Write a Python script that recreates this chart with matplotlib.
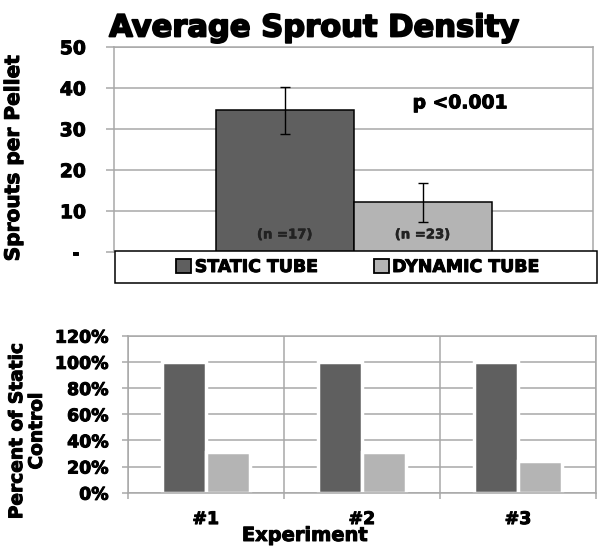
import matplotlib.pyplot as plt
import matplotlib.patheffects as pe
from matplotlib.patches import Rectangle, Patch

# Top chart: average sprout density
groups = ['STATIC TUBE', 'DYNAMIC TUBE']
density = [34.5, 12.0]
density_err = [5.7, 4.75]
n_labels = ['(n =17)', '(n =23)']
density_ticks = [0, 10, 20, 30, 40, 50]
density_ticklabels = ['- ', '10', '20', '30', '40', '50']

# Bottom chart: percent of static control per experiment
experiments = ['#1', '#2', '#3']
static_pct = [100, 100, 100]
dynamic_pct = [31, 31, 24]
pct_ticks = [0, 20, 40, 60, 80, 100, 120]

DARK = '#5f5f5f'
LIGHT = '#b4b4b4'
GRID = '#a8a8a8'
W, H = 602, 550

plt.rcParams['font.family'] = 'DejaVu Sans'
plt.rcParams['font.weight'] = 'bold'

# heavier strokes so the bold text looks closer to the original black face
HEAVY = [pe.withStroke(linewidth=0.7, foreground='black')]
HEAVIER = [pe.withStroke(linewidth=1.3, foreground='black')]


def box(x0, y0, x1, y1):
    # pixel box (top-left origin) -> figure rect
    return [x0 / W, 1 - y1 / H, (x1 - x0) / W, (y1 - y0) / H]


fig = plt.figure(figsize=(W / 100, H / 100), dpi=100)

# ---- top chart ----
ax1 = fig.add_axes(box(114.3, 46.7, 593, 251.7))
xs = [-0.144, 0.144]
ax1.bar(xs, density, width=0.288, color=[DARK, LIGHT], edgecolor='black',
        linewidth=1.1, zorder=3)
ax1.errorbar(xs, density, yerr=density_err, fmt='none', ecolor='black',
             elinewidth=1.0, capsize=3.5, capthick=1.0, zorder=4)
for x, lab in zip(xs, n_labels):
    ax1.text(x, 4.1, lab, ha='center', va='center', fontsize=9.5,
             fontweight='bold', color='#222222', zorder=5,
             path_effects=[pe.withStroke(linewidth=0.4, foreground='#222222')])
ax1.text(0.222, 36.3, 'p <0.001', ha='center', va='center', fontsize=13.5,
         fontweight='bold', path_effects=HEAVY)
ax1.set_xlim(-0.5, 0.5)
ax1.set_ylim(0, 50)
ax1.set_xticks([])
ax1.set_yticks(density_ticks)
ax1.set_yticklabels(density_ticklabels, fontsize=13.5, fontweight='bold')
for t in ax1.get_yticklabels():
    t.set_path_effects(HEAVY)
ax1.tick_params(axis='y', length=5.5, width=1.1, color=GRID, pad=15)
ax1.yaxis.grid(True, color=GRID, linewidth=1.1, zorder=0)
ax1.set_axisbelow(True)
for s in ['left', 'right', 'top']:
    ax1.spines[s].set_color(GRID)
    ax1.spines[s].set_linewidth(1.1)
ax1.spines['bottom'].set_visible(False)

# legend box under the top chart
fig.patches.append(Rectangle((115 / W, 1 - 283 / H), 482 / W, 32 / H,
                             transform=fig.transFigure, facecolor='white',
                             edgecolor='black', linewidth=1.1, zorder=10))
handles = [Patch(facecolor=c, edgecolor='black', linewidth=1.3)
           for c in [DARK, LIGHT]]
leg = fig.legend(handles, groups, loc='center', ncol=2, frameon=False,
                 bbox_to_anchor=(358 / W, 1 - 267 / H),
                 prop={'size': 12.5, 'weight': 'bold'},
                 handlelength=0.86, handleheight=0.86, handletextpad=0.2,
                 columnspacing=3.2, borderpad=0)
leg.set_zorder(11)
for t in leg.get_texts():
    t.set_path_effects(HEAVY)

fig.text(13.5 / W, 1 - 157.7 / H, 'Sprouts per Pellet', rotation=90,
         ha='center', va='center', fontsize=14.5, fontweight='bold',
         path_effects=HEAVY)
fig.text(313.5 / W, 1 - 36.5 / H, 'Average Sprout Density', ha='center',
         va='baseline', fontsize=22, fontweight='bold', path_effects=HEAVIER)

# ---- bottom chart ----
ax2 = fig.add_axes(box(127.7, 335.7, 596, 492.7))
pos = list(range(len(experiments)))
ax2.bar([p + 0.358 for p in pos], static_pct, width=0.282, color=DARK,
        edgecolor='white', linewidth=2.5, zorder=3)
ax2.bar([p + 0.641 for p in pos], dynamic_pct, width=0.282, color=LIGHT,
        edgecolor='white', linewidth=2.5, zorder=3)
ax2.set_xlim(0, len(experiments))
ax2.set_ylim(0, 120)
ax2.set_yticks(pct_ticks)
ax2.set_yticklabels([f'{v}%' for v in pct_ticks], fontsize=12.5,
                    fontweight='bold')
ax2.set_xticks([p + 0.5 for p in pos])
ax2.set_xticklabels(experiments, fontsize=12.5, fontweight='bold')
for t in ax2.get_yticklabels() + ax2.get_xticklabels():
    t.set_path_effects(HEAVY)
ax2.set_xticks(range(len(experiments) + 1), minor=True)
ax2.tick_params(axis='x', which='major', length=0, pad=12.5)
ax2.tick_params(axis='x', which='minor', length=4, width=1.1, color=GRID)
ax2.tick_params(axis='y', length=4.3, width=1.1, color=GRID, pad=9.5)
ax2.yaxis.grid(True, color=GRID, linewidth=1.1, zorder=0)
ax2.xaxis.grid(True, which='minor', color=GRID, linewidth=1.1, zorder=0)
ax2.set_axisbelow(True)
for s in ax2.spines.values():
    s.set_color(GRID)
    s.set_linewidth(1.1)
ax2.spines['bottom'].set_zorder(3.5)

fig.text(26.5 / W, 1 - 431 / H, 'Percent of Static\nControl', rotation=90,
         ha='center', va='center', multialignment='center', linespacing=1.05,
         fontsize=13.4, fontweight='bold', path_effects=HEAVY)
fig.text(305 / W, 1 - 541 / H, 'Experiment', ha='center', va='baseline',
         fontsize=14, fontweight='bold', path_effects=HEAVY)

fig.savefig('out.png', dpi=100, facecolor='white')
